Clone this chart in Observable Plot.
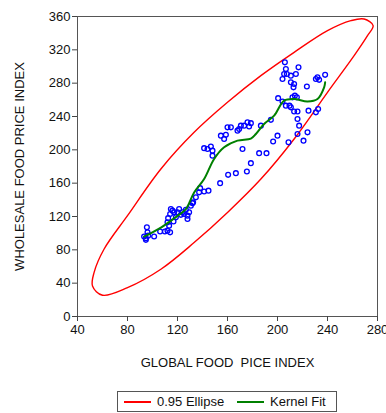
<!DOCTYPE html>
<html><head><meta charset="utf-8">
<script src="https://cdn.jsdelivr.net/npm/d3@7"></script>
<script src="https://cdn.jsdelivr.net/npm/@observablehq/plot@0.6"></script>
<style>
body{margin:0;background:#fff;font-family:"Liberation Sans",Arial,sans-serif;}
#chart{position:relative;width:386px;height:413px;}
#legend{position:absolute;left:117px;top:391px;width:220px;height:21px;border:1px solid #555;box-sizing:border-box;font-size:13px;color:#111;}
#legend .ln{position:absolute;top:9px;height:2px;width:27px;}
#legend .tx{position:absolute;top:2px;}
</style>
</head><body>
<div id="chart"></div>
<script>
const xTicks = [40, 80, 120, 160, 200, 240, 280];
const yTicks = [0, 40, 80, 120, 160, 200, 240, 280, 320, 360];
const xLabel = "GLOBAL FOOD \u00a0PICE INDEX";
const yLabel = "WHOLESALE FOOD PRICE INDEX";
const legendLabels = ["0.95 Ellipse", "Kernel Fit"];

// scatter: global food price index (x) vs wholesale food price index (y)
const globalIdx = [
  205.9,206.7,205.3,207.5,204,210.7,214.7,216.8,210.7,213.3,212.8,223.5,232,233.3,230.7,238.1,
  200.5,204,213.9,215.5,212,206.7,210.7,213.3,216,224.8,230.7,232.5,209.6,216,217.3,216,224,220.8,208.8,200,196.5,
  194.7,186.7,178.7,176,173.3,170.7,169.3,168,177.3,162.7,160,158.7,154.7,157.3,
  141.3,144,146.7,148,148,172,185.3,191.2,178.7,175.5,166.7,160.5,154.1,
  144.8,141.3,138.1,137.3,134.7,132,129.3,128,125.3,122.7,120,118.7,116.8,114.7,114.1,112.5,112,
  114.1,112,109.9,106.1,101.3,96.5,95.5,96,94.7,93.3,94.7,117.3,116,121.3,124,126.7,130.7,132.5,128,113.3
];
const wholesaleIdx = [
  305,297,291,291,285,289,291,299,281,279,275,276,287,284,285,290,
  262,258,265,263,263,253,251,246,246,247,245,249,253,237,229,219,221,211,209,217,210,
  236,229,232,233,229,229,225,223,228,227,227,218,217,213,
  202,201,204,199,193,201,196,196,184,174,172,170,160,
  151,150,154,149,143,136,125,121,123,122,125,119,114,129,123,118,113,
  101,103,102,102,96,97,107,101,94,96,92,125,127,129,125,128,133,137,117,109
];

// kernel fit line
const kernelX = [93.3,106.7,120,126.7,133.3,141.3,149.3,157.3,168,178.7,182.7,189.3,197.3,205.3,213.3,224,232,237.3,238.1];
const kernelY = [95.9,106.7,120.8,128.8,148.8,164.9,189,203,211,213.5,219,231,241,259,261,258,261,275,281];

// 0.95 ellipse outline
const ellipseX = [60,80,106.7,133.3,160,186.7,213.3,240,261.3,272,276.5,269.3,258.7,240,213.3,186.7,160,133.3,106.7,80,61.3,53.3,52];
const ellipseY = [25.5,34.6,56.7,88.7,124.8,164.9,213,269,313,337,349,357,355,343,317,289,257,221,177,121,81,53,36.7];

const pts = globalIdx.map((g, i) => ({x: g, y: wholesaleIdx[i]}));
const kernel = kernelX.map((k, i) => ({x: k, y: kernelY[i]}));
const ellipse = ellipseX.map((e, i) => ({x: e, y: ellipseY[i]}));

const plot = Plot.plot({
  width: 386,
  height: 380,
  marginLeft: 77,
  marginRight: 9,
  marginTop: 16,
  marginBottom: 64,
  style: {fontFamily: '"Liberation Sans", Arial, sans-serif', fontSize: "13px", color: "#111", background: "#fff", overflow: "visible"},
  x: {domain: [40, 280]},
  y: {domain: [0, 360]},
  marks: [
    Plot.line(ellipse, {x: "x", y: "y", curve: "catmull-rom-closed", stroke: "#ff0000", strokeWidth: 1.4}),
    Plot.dot(pts, {x: "x", y: "y", r: 2.4, stroke: "#0000ff", strokeWidth: 1.3, fill: "none"}),
    Plot.line(kernel, {x: "x", y: "y", curve: "catmull-rom", stroke: "#008000", strokeWidth: 2}),
    Plot.frame({stroke: "#555"}),
    Plot.axisX({ticks: xTicks, tickSize: 5, tickPadding: 3, fontSize: 13, label: null, stroke: "#444"}),
    Plot.axisY({ticks: yTicks, tickSize: 5, tickPadding: 2, fontSize: 13, label: null, stroke: "#444"}),
    Plot.text([xLabel], {text: d => d, frameAnchor: "bottom", dy: 50, fontSize: 13, fill: "#111"}),
    Plot.text([yLabel], {text: d => d, frameAnchor: "left", textAnchor: "middle", rotate: -90, dx: -58, fontSize: 13, fill: "#111"})
  ]
});
const chart = document.getElementById("chart");
chart.appendChild(plot);

const legend = document.createElement("div");
legend.id = "legend";
legend.innerHTML =
  `<div class="ln" style="left:6px;background:#ff0000"></div><div class="tx" style="left:39px">${legendLabels[0]}</div>` +
  `<div class="ln" style="left:119px;background:#008000"></div><div class="tx" style="left:152px">${legendLabels[1]}</div>`;
chart.appendChild(legend);
</script>
</body></html>
